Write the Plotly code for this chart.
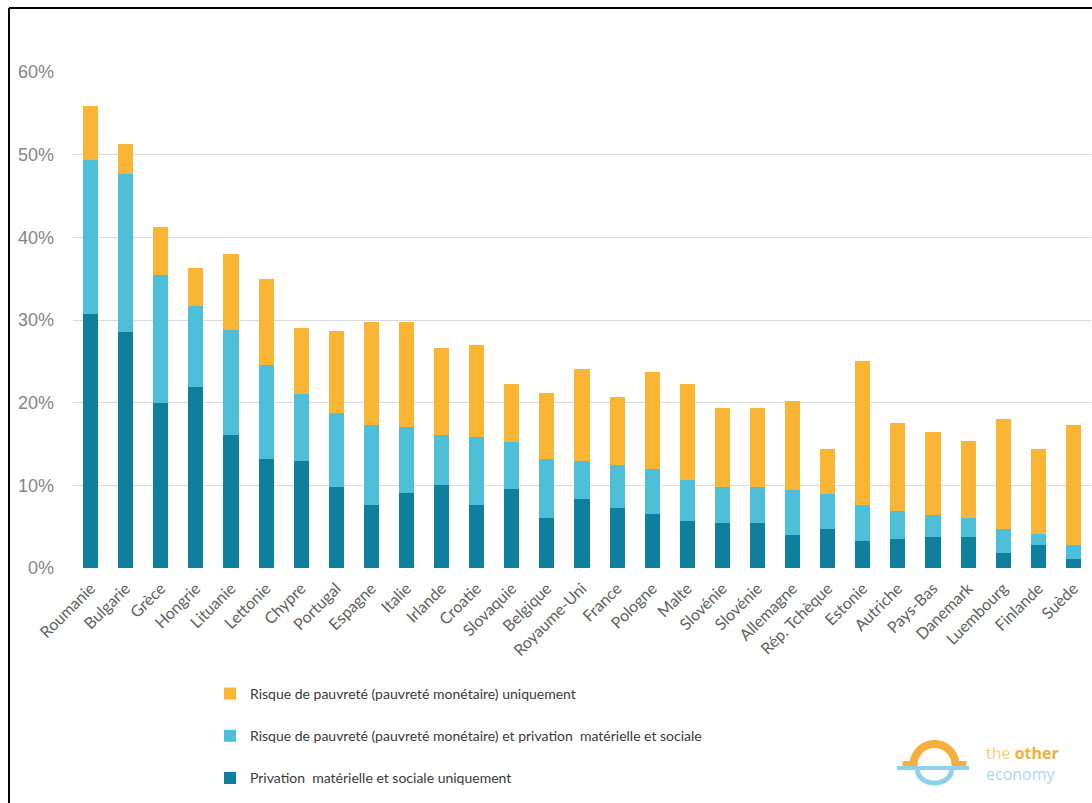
import numpy as np
import plotly.graph_objects as go

# Pays (ordre de l'axe horizontal)
pays = ["Roumanie", "Bulgarie", "Grèce", "Hongrie", "Lituanie", "Lettonie", "Chypre",
        "Portugal", "Espagne", "Italie", "Irlande", "Croatie", "Slovaquie", "Belgique",
        "Royaume-Uni", "France", "Pologne", "Malte", "Slovénie", "Slovénie", "Allemagne",
        "Rép. Tchèque", "Estonie", "Autriche", "Pays-Bas", "Danemark", "Luembourg",
        "Finlande", "Suède"]

# Parts de la population (%) par composante, empilées de bas en haut
privation_seule = [30.7, 28.5, 20.0, 21.9, 16.1, 13.2, 12.9, 9.8, 7.6, 9.1, 10.1, 7.6, 9.6,
                   6.0, 8.3, 7.2, 6.5, 5.7, 5.4, 5.4, 4.0, 4.7, 3.3, 3.5, 3.8, 3.8, 1.8,
                   2.8, 1.1]
pauvrete_et_privation = [18.6, 19.2, 15.5, 9.8, 12.7, 11.4, 8.2, 9.0, 9.7, 8.0, 6.0, 8.3,
                         5.6, 7.2, 4.7, 5.3, 5.5, 4.9, 4.4, 4.4, 5.4, 4.2, 4.3, 3.4, 2.6,
                         2.2, 2.9, 1.3, 1.7]
pauvrete_seule = [6.6, 3.6, 5.8, 4.6, 9.2, 10.4, 7.9, 9.9, 12.5, 12.7, 10.5, 11.1, 7.0,
                  8.0, 11.1, 8.2, 11.7, 11.6, 9.5, 9.5, 10.8, 5.5, 17.5, 10.7, 10.0, 9.4,
                  13.3, 10.3, 14.5]

y_ticks = [0, 10, 20, 30, 40, 50, 60]
y_tick_labels = ["0%", "10%", "20%", "30%", "40%", "50%", "60%"]

W, H = 1092, 803


def px(x):
    return x / W


def py(y):
    return 1 - y / H


positions = list(range(len(pays)))

# (nom, valeurs, couleur, rang dans la légende)
series = [
    ("Privation  matérielle et sociale uniquement", privation_seule, "#0E7F9D", 3),
    ("Risque de pauvreté (pauvreté monétaire) et privation  matérielle et sociale",
     pauvrete_et_privation, "#4EBFD9", 2),
    ("Risque de pauvreté (pauvreté monétaire) uniquement", pauvrete_seule, "#FBB534", 1),
]

fig = go.Figure()
for i, (nom, vals, couleur, rang) in enumerate(series):
    fig.add_trace(go.Bar(
        x=positions, y=vals, name=nom, legendgroup=f"g{i}", legendrank=rang,
        marker=dict(color=couleur, line=dict(width=0)),
        width=0.43,
    ))

# Logo "the other economy"
def poly(points):
    return "M " + " L ".join(f"{px(a):.5f},{py(b):.5f}" for a, b in points)


cx, cy = 934.5, 765
arc = [(cx - 21 * np.cos(t), cy - 21 * np.sin(t)) for t in np.linspace(0, np.pi, 40)]
arc = [(cx - 32, cy)] + arc + [(cx + 32, cy)]
bowl = [(cx - 17 * np.cos(t), cy + 5 + 13 * np.sin(t)) for t in np.linspace(0, np.pi, 40)]

shapes = [
    # cadre
    dict(type="line", xref="paper", yref="paper", x0=px(9), x1=px(9), y0=py(8), y1=py(803),
         line=dict(color="#000000", width=2)),
    dict(type="line", xref="paper", yref="paper", x0=px(9), x1=px(1092), y0=py(8), y1=py(8),
         line=dict(color="#000000", width=2)),
    dict(type="path", xref="paper", yref="paper", path=poly(arc),
         line=dict(color="#F6AE3C", width=8)),
    dict(type="line", xref="paper", yref="paper", x0=px(897), x1=px(969), y0=py(768), y1=py(768),
         line=dict(color="#8FD0EA", width=4)),
    dict(type="path", xref="paper", yref="paper", path=poly(bowl),
         line=dict(color="#8FD0EA", width=5)),
]

annotations = [
    dict(xref="paper", yref="paper", x=px(985), y=py(765), xanchor="left", yanchor="bottom",
         showarrow=False, borderpad=0,
         text="<span style='color:#F9CB80'>the </span><b><span style='color:#F6AE3C'>other</span></b>",
         font=dict(family="Open Sans", size=16)),
    dict(xref="paper", yref="paper", x=px(985), y=py(762), xanchor="left", yanchor="top",
         showarrow=False, borderpad=0, text="economy",
         font=dict(family="Open Sans", size=16, color="#A9DAEE")),
]

fig.update_layout(
    width=W, height=H, autosize=False,
    template="none",
    margin=dict(l=0, r=0, t=0, b=0, pad=0),
    paper_bgcolor="#FFFFFF", plot_bgcolor="#FFFFFF",
    barmode="stack",
    showlegend=True,
    legend=dict(
        x=px(210), y=py(678), xanchor="left", yanchor="top",
        traceorder="grouped", tracegroupgap=21,
        font=dict(family="Lato", size=14, color="#3A3A3A"),
        bgcolor="rgba(0,0,0,0)", itemclick=False,
    ),
    xaxis=dict(
        domain=[px(73), px(1091)], range=[-0.5, len(pays) - 0.5],
        tickmode="array", tickvals=positions, ticktext=pays, tickangle=-45,
        tickfont=dict(family="Lato", size=16, color="#606060"),
        ticklabelstandoff=7,
        showgrid=False, zeroline=False, showline=False, ticks="", automargin=False,
    ),
    yaxis=dict(
        domain=[py(568), py(72)], range=[0, 60],
        tickmode="array", tickvals=y_ticks, ticktext=y_tick_labels,
        tickfont=dict(family="Liberation Sans", size=18, color="#858585"),
        showgrid=True, gridcolor="#DADADA", gridwidth=1, zeroline=False, showline=False,
        ticks="", ticklabelstandoff=18, automargin=False,
    ),
    shapes=shapes,
    annotations=annotations,
)

fig.write_html("out.html")
